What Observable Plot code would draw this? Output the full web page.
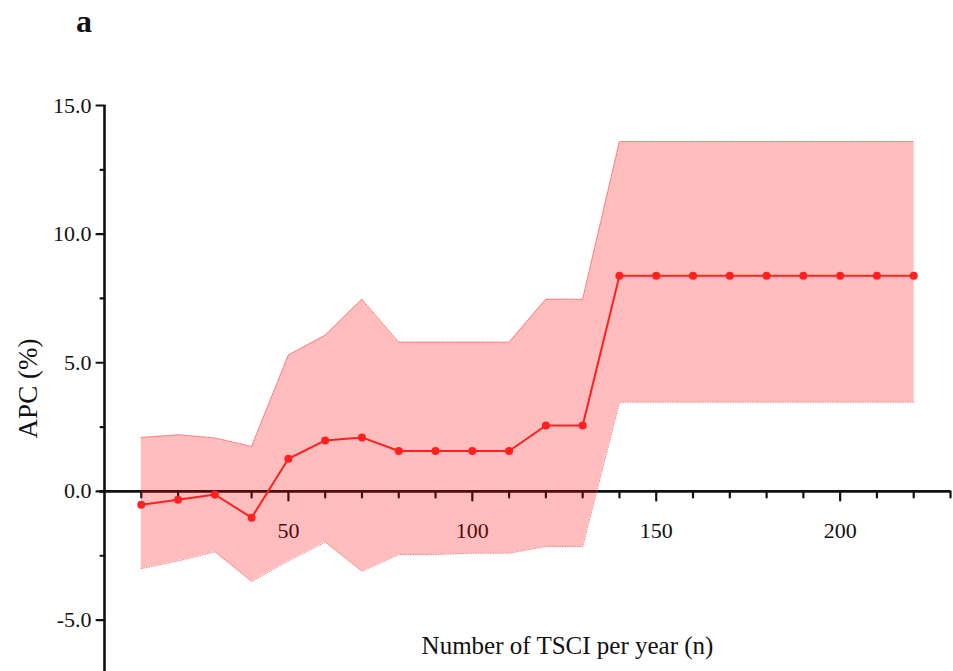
<!DOCTYPE html>
<html>
<head>
<meta charset="utf-8">
<script src="https://cdn.jsdelivr.net/npm/d3@7"></script>
<script src="https://cdn.jsdelivr.net/npm/@observablehq/plot@0.6"></script>
<style>
  html, body { margin: 0; padding: 0; background: #fff; }
  #wrap { position: relative; width: 953px; height: 671px; overflow: hidden; }
  #panel { position: absolute; left: 76px; top: 3px; font-family: "Liberation Serif", serif; font-weight: bold; font-size: 32px; color: #111; }
  svg { display: block; }
</style>
</head>
<body>
<div id="wrap">
  <div id="panel">a</div>
</div>
<script>
const nValues = [10,20,30,40,50,60,70,80,90,100,110,120,130,140,150,160,170,180,190,200,210,220];
const apc     = [-0.52,-0.32,-0.12,-1.02,1.27,1.98,2.1,1.57,1.57,1.57,1.57,2.56,2.56,8.38,8.38,8.38,8.38,8.38,8.38,8.38,8.38,8.38];
const upper   = [2.1,2.2,2.08,1.75,5.3,6.07,7.47,5.8,5.8,5.8,5.8,7.47,7.47,13.6,13.6,13.6,13.6,13.6,13.6,13.6,13.6,13.6];
const lower   = [-3.0,-2.7,-2.35,-3.5,-2.7,-1.97,-3.1,-2.45,-2.45,-2.4,-2.4,-2.14,-2.14,3.47,3.47,3.47,3.47,3.47,3.47,3.47,3.47,3.47];

const xMajorTicks = [50,100,150,200];
const xMinorTicks = [10,20,30,40,60,70,80,90,110,120,130,140,160,170,180,190,210,220,230];
const yMajorTicks = [-5,0,5,10,15];
const yMinorTicks = [-2.5,2.5,7.5,12.5];
const yTickLabels = ["-5.0","0.0","5.0","10.0","15.0"];
const xDomain = [0,230];
const yDomain = [-7,15];
const xLabel = "Number of TSCI per year (n)";
const yLabel = "APC (%)";

const data = nValues.map((n,i) => ({n, apc: apc[i], lo: lower[i], hi: upper[i]}));
const font = "Liberation Serif, Times New Roman, serif";
const ink = "#111";
const tickShape = {draw(ctx, l) { ctx.moveTo(0, 0); ctx.lineTo(0, -l); }};

const chart = Plot.plot({
  width: 953,
  height: 671,
  marginLeft: 104,
  marginRight: 3,
  marginTop: 105,
  marginBottom: 0,
  style: {fontFamily: font, background: "transparent", overflow: "visible"},
  x: {domain: xDomain, axis: null},
  y: {domain: yDomain, axis: null},
  marks: [
    // axes lines
    Plot.ruleX([0], {y1: yDomain[0], y2: yDomain[1], stroke: ink, strokeWidth: 2.6}),
    Plot.ruleY([0], {x1: -1.2, x2: xDomain[1], stroke: ink, strokeWidth: 2.6}),
    // y ticks
    Plot.vector(yMajorTicks, {x: 0, y: d => d, length: 8, rotate: 270, anchor: "start", shape: tickShape, stroke: ink, strokeWidth: 2.2}),
    Plot.vector(yMinorTicks, {x: 0, y: d => d, length: 4, rotate: 270, anchor: "start", shape: tickShape, stroke: ink, strokeWidth: 2.2}),
    // x ticks
    Plot.vector(xMajorTicks, {x: d => d, y: 0, length: 9, rotate: 180, anchor: "start", shape: tickShape, stroke: ink, strokeWidth: 2.2}),
    Plot.vector(xMinorTicks, {x: d => d, y: 0, length: 6, rotate: 180, anchor: "start", shape: tickShape, stroke: ink, strokeWidth: 2.2}),
    // tick labels
    Plot.text(yMajorTicks, {x: 0, y: d => d, text: (d, i) => yTickLabels[i], dx: -13, textAnchor: "end", fontSize: 22, fill: ink}),
    Plot.text(xMajorTicks, {x: d => d, y: 0, text: d => String(d), dy: 40, fontSize: 22, fill: ink}),
    // axis titles
    Plot.text([xLabel], {frameAnchor: "bottom", text: d => d, dx: 40, dy: -26, lineAnchor: "middle", textAnchor: "middle", fontSize: 25, fill: ink}),
    Plot.text([yLabel], {frameAnchor: "left", text: d => d, dx: -76, dy: 0, rotate: -90, textAnchor: "middle", lineAnchor: "middle", fontSize: 27, fill: ink}),
    // confidence band
    Plot.areaY(data, {x: "n", y1: "lo", y2: "hi", fill: "#ff0000", fillOpacity: 0.26}),
    Plot.line(data, {x: "n", y: "hi", stroke: "#ff4a4a", strokeOpacity: 0.7, strokeWidth: 1, strokeDasharray: "1 1.5"}),
    Plot.line(data, {x: "n", y: "lo", stroke: "#ff4a4a", strokeOpacity: 0.7, strokeWidth: 1, strokeDasharray: "1 1.5"}),
    Plot.ruleX([nValues[nValues.length-1]], {y1: lower[lower.length-1], y2: upper[upper.length-1], stroke: "#ff5a5a", strokeOpacity: 0.5, strokeWidth: 1, strokeDasharray: "1 1.5"}),
    // APC line
    Plot.line(data, {x: "n", y: "apc", stroke: "#ff2020", strokeWidth: 2}),
    Plot.dot(data, {x: "n", y: "apc", r: 4, fill: "#ff2020", stroke: "none"})
  ]
});
document.getElementById("wrap").prepend(chart);
</script>
</body>
</html>
